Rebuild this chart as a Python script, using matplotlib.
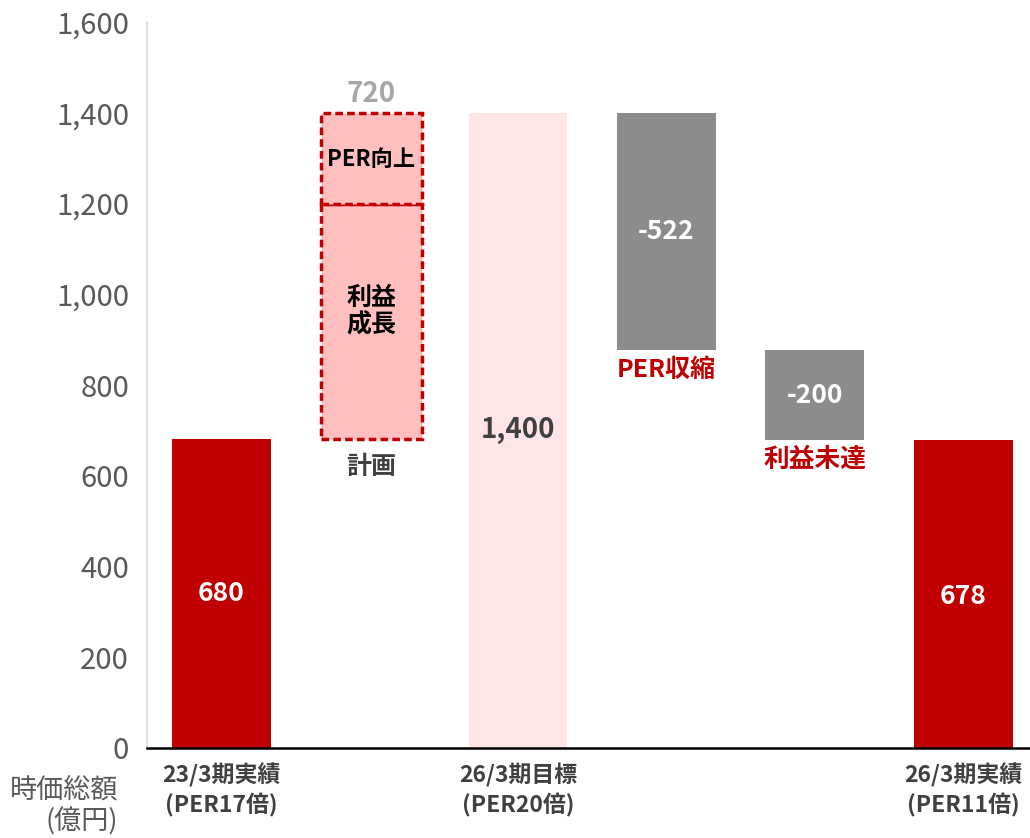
import matplotlib.pyplot as plt

plt.rcParams['font.family'] = ['Noto Sans CJK JP', 'DejaVu Sans']

# waterfall data (億円)
start_val = 680
plan_profit = 1200 - start_val   # 利益成長
plan_per = 1400 - 1200           # PER向上
plan_total = plan_profit + plan_per
target = 1400
per_drop = -522
profit_miss = -200
end_val = 678

tick_pos = [0, 2, 5]
tick_labels = ['23/3期実績\n(PER17倍)', '26/3期目標\n(PER20倍)', '26/3期実績\n(PER11倍)']

red = '#C00000'
gray = '#8C8C8C'
w = 0.667

fig = plt.figure(figsize=(10.3, 8.38), dpi=100)
ax = fig.add_axes([0.1427, 0.1074, 0.8573, 0.8663])

# actual start
ax.bar(0, start_val, width=w, color=red)
ax.text(0, start_val / 2, f'{start_val}', ha='center', va='center', color='white',
        fontsize=19, fontweight='bold')

# plan: dashed boxes
ax.bar(1.01, plan_profit, bottom=start_val, width=0.68, color='#FFBFBF', edgecolor=red,
       linestyle=(0, (2.2, 1.2)), linewidth=2.5)
ax.bar(1.01, plan_per, bottom=start_val + plan_profit, width=0.68, color='#FFBFBF', edgecolor=red,
       linestyle=(0, (2.2, 1.2)), linewidth=2.5)
ax.text(1.01, target + 42, f'{plan_total}', ha='center', va='center', color='#A6A6A6',
        fontsize=20, fontweight='bold')
ax.text(1.01, 1297, 'PER向上', ha='center', va='center', color='black', fontsize=16, fontweight='bold')
ax.text(1.01, 962, '利益\n成長', ha='center', va='center', color='black', fontsize=18,
        fontweight='bold', linespacing=1.15)
ax.text(1.01, 619, '計画', ha='center', va='center', color='#404040', fontsize=18, fontweight='bold')

# target
ax.bar(2, target, width=w, color='#FFE5E5')
ax.text(2, 700, f'{target:,}', ha='center', va='center', color='#404040',
        fontsize=20, fontweight='bold')

# PER shrink
ax.bar(3, -per_drop, bottom=target + per_drop, width=w, color=gray)
ax.text(3, target + per_drop / 2, f'{per_drop}', ha='center', va='center', color='white',
        fontsize=19, fontweight='bold')
ax.text(3, 833, 'PER収縮', ha='center', va='center', color=red, fontsize=18, fontweight='bold')

# profit miss
lvl = target + per_drop
ax.bar(4, -profit_miss, bottom=lvl + profit_miss, width=w, color=gray)
ax.text(4, lvl + profit_miss / 2, f'{profit_miss}', ha='center', va='center', color='white',
        fontsize=19, fontweight='bold')
ax.text(4, 636, '利益未達', ha='center', va='center', color=red, fontsize=18.5, fontweight='bold')

# actual end
ax.bar(5, end_val, width=w, color=red)
ax.text(5, 335, f'{end_val}', ha='center', va='center', color='white',
        fontsize=19, fontweight='bold')

ax.set_xlim(-0.5, 5.45)
ax.set_ylim(0, 1600)
ax.set_yticks(range(0, 1601, 200))
ax.set_yticklabels([f'{v:,}' for v in range(0, 1601, 200)])
ax.set_xticks(tick_pos)
ax.set_xticklabels(tick_labels, fontsize=16.5, fontweight='bold', color='#404040', linespacing=1.33)
ax.tick_params(axis='y', length=0, labelsize=21, labelcolor='#595959', pad=13)
ax.tick_params(axis='x', length=0, pad=11)

for s in ['top', 'right']:
    ax.spines[s].set_visible(False)
ax.spines['left'].set_color('#D9D9D9')
ax.spines['left'].set_linewidth(1.2)
ax.spines['bottom'].set_color('black')
ax.spines['bottom'].set_linewidth(1.8)

fig.text(118 / 1030, 1 - 806 / 838, '時価総額\n(億円)', ha='right', va='center',
         fontsize=19.5, color='#595959', linespacing=1.2)

fig.savefig('out.png', dpi=100)
